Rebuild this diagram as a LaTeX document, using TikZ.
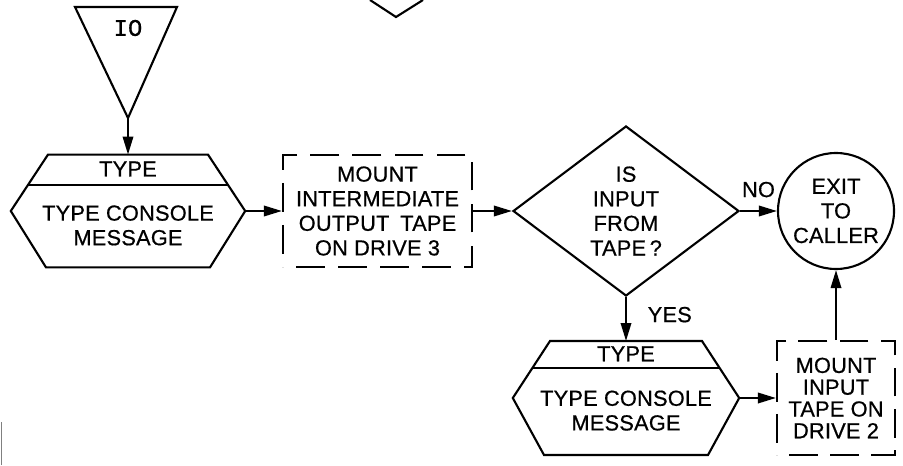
\documentclass[tikz,border=0pt]{standalone}
\usepackage{fontspec}
\setmainfont{Liberation Sans}[LetterSpace=1, FakeBold=0.6]
\newfontfamily\iofont{Liberation Mono}[FakeBold=0.5]
\usepackage{tikz}
\usetikzlibrary{arrows.meta, positioning, shapes.geometric, decorations}

\tikzset{
  blk/.style={line width=1.5pt, line join=miter},
  flow/.style={line width=1.5pt, -{Triangle[length=4.5mm, width=2.6mm]}},
  mount/.style={draw, line width=1.5pt, dash pattern=on 0.72cm off 0.3cm, dash expand off,
    align=center, inner sep=0pt},
  decision/.style={draw, diamond, line width=1.5pt, align=center, inner sep=0pt,
    minimum width=5.65cm, minimum height=4.25cm},
  exitc/.style={draw, circle, line width=1.5pt, align=center, inner sep=0pt, minimum size=2.9cm},
  txt/.style={align=center, inner sep=1pt},
}

\begin{document}
\begin{tikzpicture}[font=\fontsize{15.5}{17.5}\selectfont]
    \useasboundingbox (0,0) rectangle (22.575,11.625);

    % cut-off shapes at the page edges
    \draw[blk] (9.25,11.625) -- (9.9,11.2) -- (10.575,11.625);
    \draw[line width=0.8pt, gray] (0.03,0) -- (0.03,1.07);

    % IO
    \draw[blk] (1.875,11.45) -- (4.425,11.45) -- (3.2,8.675) -- cycle;
    \node[txt] (io) at (3.2,10.925) {\iofont\fontsize{17}{17}\selectfont IO};
    \coordinate (ioTip) at (3.2,8.675);

    % TYPE, oben
    \draw[blk] (1.2,7.76) -- (5.2,7.76) -- (6.13,6.35) -- (5.25,4.94) -- (1.15,4.94) -- (0.27,6.35) -- cycle;
    \draw[blk] (0.705,7.01) -- (5.695,7.01);
    \node[txt] (typeA) at (3.2,7.4) {TYPE};
    \node[txt] (msgA) at (3.2,5.99) {TYPE CONSOLE\\MESSAGE};
    \coordinate (hexA-n) at (3.2,7.76);
    \coordinate (hexA-e) at (6.13,6.35);

    % Band 3
    \node[mount, minimum width=4.725cm, minimum height=2.8cm] (mountA) at (9.4375,6.35)
      {MOUNT\\INTERMEDIATE\\OUTPUT\enspace TAPE\\ON DRIVE 3};

    % Abfrage
    \node[decision] (tape) at (15.65,6.35) {IS\\INPUT\\FROM\\TAPE\,?};

    % Ende
    \node[exitc] (exit) at (20.9,6.35) {EXIT\\TO\\CALLER};

    % TYPE, unten
    \draw[blk] (13.75,3.1) -- (17.55,3.1) -- (18.48,1.675) -- (17.7,0.25) -- (13.6,0.25) -- (12.82,1.675) -- cycle;
    \draw[blk] (13.31,2.425) -- (17.99,2.425);
    \node[txt] (typeB) at (15.65,2.78) {TYPE};
    \node[txt] (msgB) at (15.65,1.36) {TYPE CONSOLE\\MESSAGE};
    \coordinate (hexB-n) at (15.65,3.1);
    \coordinate (hexB-e) at (18.48,1.675);

    % Band 2
    \node[mount, minimum width=2.95cm, minimum height=2.85cm,
      font=\fontsize{15.5}{15.5}\selectfont] (mountB) at (20.9,1.675)
      {MOUNT\\INPUT\\TAPE ON\\DRIVE 2};

    % Pfeile
    \draw[flow] (ioTip) -- (hexA-n);
    \draw[flow] (hexA-e) -- (mountA.west);
    \draw[flow] (mountA.east) -- (tape.west);
    \draw[flow] (tape.east) -- node[above=2mm] {NO} (exit.west);
    \draw[flow] (tape.south) -- node[pos=0.4, right=4mm] {YES} (hexB-n);
    \draw[flow] (hexB-e) -- (mountB.west);
    \draw[flow] (mountB.north) -- (exit.south);
\end{tikzpicture}
\end{document}
